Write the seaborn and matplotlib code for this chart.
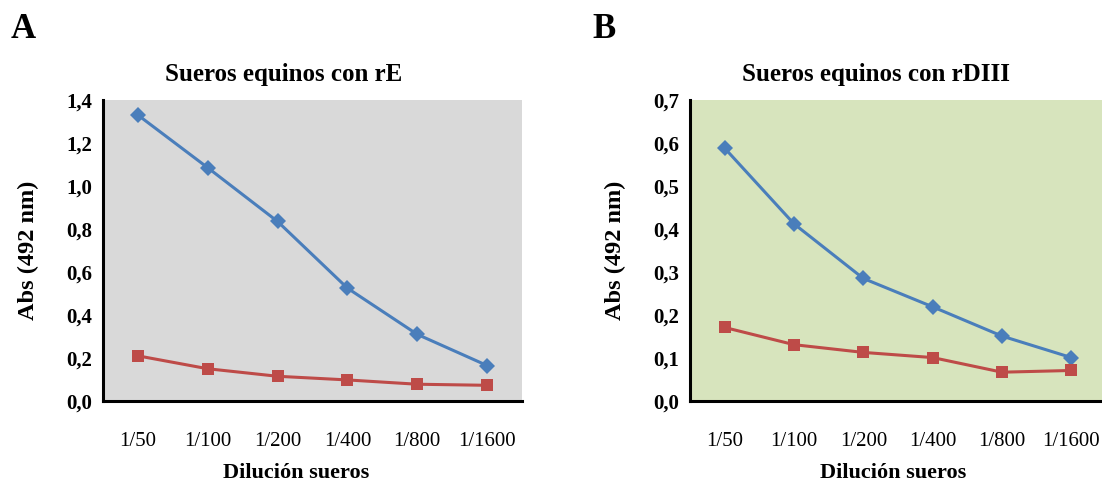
import numpy as np
import pandas as pd
import seaborn as sns
import matplotlib.pyplot as plt

# Dilutions and absorbance readings (492 nm)
diluciones = ["1/50", "1/100", "1/200", "1/400", "1/800", "1/1600"]
re_azul = [1.33, 1.085, 0.835, 0.525, 0.31, 0.165]
re_rojo = [0.21, 0.15, 0.115, 0.098, 0.078, 0.073]
rdiii_azul = [0.588, 0.412, 0.285, 0.219, 0.151, 0.101]
rdiii_rojo = [0.171, 0.131, 0.113, 0.101, 0.067, 0.071]

sns.set_style("white")
plt.rcParams['font.family'] = ['Liberation Serif', 'DejaVu Serif']
plt.rcParams.update({"text.color": "black", "axes.labelcolor": "black",
                     "xtick.color": "black", "ytick.color": "black"})

fig = plt.figure(figsize=(11.02, 4.84), dpi=100)
axA = fig.add_axes([103/1102, 83/484, 419/1102, 301/484])
axB = fig.add_axes([690/1102, 83/484, 416/1102, 301/484])

pal = {"pos": "#4a7ebb", "neg": "#be4b48"}
mk = {"pos": "D", "neg": "s"}


def panel(ax, azul, rojo, titulo, ymax, bg, tcx, xlx):
    df = pd.DataFrame({
        "dil": diluciones * 2,
        "abs": azul + rojo,
        "serie": ["pos"] * 6 + ["neg"] * 6,
    })
    sns.lineplot(data=df, x="dil", y="abs", hue="serie", style="serie",
                 palette=pal, markers=mk, dashes=False, sort=False,
                 linewidth=2.2, markersize=8.5, markeredgewidth=0,
                 legend=False, ax=ax)
    ax.set_facecolor(bg)
    ax.set_xlim(-0.5, 5.5)
    ax.set_ylim(0, ymax)
    step = 0.2 if ymax > 1 else 0.1
    yt = np.arange(0, ymax + step / 2, step)
    ax.set_yticks(yt)
    ax.set_yticklabels([f"{v:.1f}".replace(".", ",") for v in yt],
                       fontsize=15, fontweight="bold")
    ax.set_xticks(range(6))
    ax.set_xticklabels(diluciones, fontsize=15)
    ax.set_xticks(np.arange(-0.5, 6, 1), minor=True)
    ax.tick_params(axis="x", which="major", length=0, pad=22)
    ax.tick_params(axis="x", which="minor", length=6, width=2, direction="out", color="black")
    ax.tick_params(axis="y", length=4, width=2, direction="out", color="black", pad=4)
    for s in ["top", "right"]:
        ax.spines[s].set_visible(False)
    for s in ["left", "bottom"]:
        ax.spines[s].set_color("black")
        ax.spines[s].set_linewidth(2.2)
    ax.set_xlabel("")
    ax.set_ylabel("Abs (492 nm)", fontsize=17.5, fontweight="bold", labelpad=19)
    fig.text(xlx, 1 - 473/484, "Dilución sueros", ha="center", va="center",
             fontsize=16, fontweight="bold")
    fig.text(tcx, 1 - 75/484, titulo, ha="center", va="center",
             fontsize=18, fontweight="bold")


panel(axA, re_azul, re_rojo, "Sueros equinos con rE", 1.4, "#d9d9d9",
      284/1102, 296/1102)
panel(axB, rdiii_azul, rdiii_rojo, "Sueros equinos con rDIII", 0.7, "#d7e4bd",
      876/1102, 893/1102)

fig.text(11/1102, 1 - 30/484, "A", fontsize=25, fontweight="bold", va="center")
fig.text(592/1102, 1 - 30/484, "B", fontsize=25, fontweight="bold", va="center")

fig.savefig("out.png", dpi=100)
